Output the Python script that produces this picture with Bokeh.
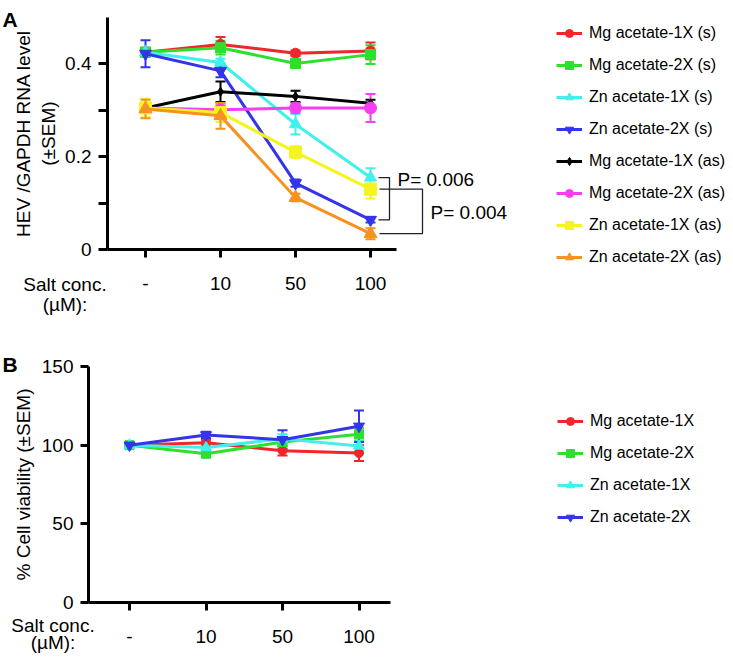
import numpy as np
from bokeh.plotting import figure
from bokeh.models import (FixedTicker, Label, Legend, LegendItem, ColumnDataSource,
                          Whisker, TeeHead, Range1d)
from bokeh.layouts import column
from bokeh.embed import file_html
from bokeh.resources import INLINE

FONT = "Liberation Sans"

# ---------------- data ----------------
x_pos = [0, 1, 2, 3]
conc_labels = ["-", "10", "50", "100"]

# Panel A: HEV/GAPDH RNA level
mg1_s = [0.425, 0.442, 0.423, 0.428]
mg1_s_err = [0.010, 0.016, 0.006, 0.018]
mg2_s = [0.425, 0.435, 0.401, 0.420]
mg2_s_err = [0.010, 0.015, 0.010, 0.020]
zn1_s = [0.425, 0.403, 0.270, 0.155]
zn1_s_err = [0.010, 0.008, 0.022, 0.020]
zn2_s = [0.422, 0.385, 0.143, 0.064]
zn2_s_err = [0.029, 0.014, 0.008, 0.006]
mg1_as = [0.305, 0.340, 0.330, 0.315]
mg1_as_err = [0.010, 0.022, 0.012, 0.008]
mg2_as = [0.305, 0.301, 0.305, 0.305]
mg2_as_err = [0.010, 0.010, 0.010, 0.030]
zn1_as = [0.305, 0.295, 0.210, 0.130]
zn1_as_err = [0.020, 0.020, 0.012, 0.020]
zn2_as = [0.303, 0.288, 0.112, 0.034]
zn2_as_err = [0.020, 0.028, 0.008, 0.012]

names_A = ["Mg acetate-1X (s)", "Mg acetate-2X (s)", "Zn acetate-1X (s)", "Zn acetate-2X (s)",
           "Mg acetate-1X (as)", "Mg acetate-2X (as)", "Zn acetate-1X (as)", "Zn acetate-2X (as)"]
p_values = ["P= 0.006", "P= 0.004"]

# Panel B: % cell viability
mg1_v = [100, 101.5, 96.5, 95]
mg1_v_err = [1, 2, 3, 5]
mg2_v = [100, 94.5, 102, 107]
mg2_v_err = [1, 2, 3, 4]
zn1_v = [100, 98.5, 104, 99.5]
zn1_v_err = [1, 2, 3, 3]
zn2_v = [100, 106.5, 103.5, 112]
zn2_v_err = [1.5, 2, 6, 10]
names_B = ["Mg acetate-1X", "Mg acetate-2X", "Zn acetate-1X", "Zn acetate-2X"]

# ---------------- styles ----------------
RED = "#F0262B"
GREEN = "#2EE02E"
CYAN = "#3FF0EC"
BLUE = "#3434EA"
BLACK = "#000000"
MAGENTA = "#F53FF2"
YELLOW = "#F4F41E"
ORANGE = "#F7921E"

series_A = [
    (mg1_s, mg1_s_err, RED, "circle", 10),
    (mg2_s, mg2_s_err, GREEN, "square", 10),
    (zn1_s, zn1_s_err, CYAN, "triangle", 12),
    (zn2_s, zn2_s_err, BLUE, "inverted_triangle", 12),
    (mg1_as, mg1_as_err, BLACK, "diamond", 9),
    (mg2_as, mg2_as_err, MAGENTA, "circle", 12),
    (zn1_as, zn1_as_err, YELLOW, "square", 12),
    (zn2_as, zn2_as_err, ORANGE, "triangle", 13),
]
series_B = [
    (mg1_v, mg1_v_err, RED, "circle", 9),
    (mg2_v, mg2_v_err, GREEN, "square", 9),
    (zn1_v, zn1_v_err, CYAN, "triangle", 11),
    (zn2_v, zn2_v_err, BLUE, "inverted_triangle", 11),
]

FIG_W = 730
LEFT_PAGE = 0   # screen x of the canvas' left edge (observed)
TOTAL_H = 656


def style_axes(p, xbounds, ybounds, yloc):
    for ax in (p.xaxis[0], p.yaxis[0]):
        ax.axis_line_width = 3
        ax.axis_line_color = "black"
        ax.major_tick_line_width = 3
        ax.minor_tick_line_width = 3
        ax.major_tick_in = 0
        ax.minor_tick_in = 0
        ax.major_label_text_font = FONT
        ax.major_label_text_font_size = "19px"
        ax.major_label_text_color = "black"
        ax.axis_label_text_font = FONT
        ax.axis_label_text_font_size = "19px"
        ax.axis_label_text_font_style = "normal"
        ax.axis_label_text_color = "black"
    xa = p.xaxis[0]
    xa.ticker = FixedTicker(ticks=x_pos)
    xa.major_label_overrides = {i: lab for i, lab in zip(x_pos, conc_labels)}
    xa.major_tick_out = 8
    xa.minor_tick_line_color = None
    xa.major_label_standoff = 19
    xa.bounds = xbounds
    xa.fixed_location = 0
    ya = p.yaxis[0]
    ya.bounds = ybounds
    ya.fixed_location = yloc
    p.xgrid.grid_line_color = None
    p.ygrid.grid_line_color = None
    p.outline_line_color = None


def draw_series(p, series, names, lw, cap):
    items = []
    for (vals, err, col, mk, sz), nm in zip(series, names):
        v = np.array(vals, dtype=float)
        e = np.array(err, dtype=float)
        src = ColumnDataSource(dict(base=x_pos, upper=v + e, lower=v - e))
        w = Whisker(source=src, base="base", upper="upper", lower="lower",
                    line_color=col, line_width=2,
                    upper_head=TeeHead(size=cap, line_color=col, line_width=2),
                    lower_head=TeeHead(size=cap, line_color=col, line_width=2))
        p.add_layout(w)
        lr = p.line(x_pos, vals, line_color=col, line_width=lw)
        sr = p.scatter(x_pos, vals, marker=mk, size=sz, fill_color=col, line_color=col)
        items.append(LegendItem(label=nm, renderers=[lr, sr]))
    return items


def make_legend(items, x, y):
    return Legend(items=items, location=(x, y), orientation="vertical",
                  label_text_font=FONT, label_text_font_size="16px",
                  label_text_color="black",
                  glyph_width=26, glyph_height=20, label_height=20, spacing=12,
                  label_standoff=7, padding=0, margin=0,
                  border_line_color=None, background_fill_alpha=0)


def text_label(p, x, y, txt, size="19px", align="left", bold=False, baseline="middle"):
    p.add_layout(Label(x=x, y=y, text=txt, text_font=FONT, text_font_size=size,
                       text_align=align, text_baseline=baseline, text_color="black",
                       text_font_style="bold" if bold else "normal"))


# ---------------- Panel A ----------------
# geometry (screen px): y-axis at x=107, top 17, x-axis at y=249; x=0 at 145, 75 px/category
A_top_px, A_height = 0, 330
A_axis_x, A_axis_top, A_axis_y, A_x0, A_dx = 107, 17, 249, 145, 75
A_ymax = 0.5
A_ppu = (A_axis_y - A_axis_top) / A_ymax


def ax_A(px):
    return (px - A_x0) / A_dx


def ay_A(py):
    return (A_axis_y - py) / A_ppu


pA = figure(width=FIG_W, height=A_height, output_backend="svg", toolbar_location=None,
            title=None,
            x_range=Range1d(ax_A(LEFT_PAGE), ax_A(LEFT_PAGE + FIG_W)),
            y_range=Range1d(ay_A(A_top_px + A_height), ay_A(A_top_px)),
            min_border=0, min_border_left=0, min_border_right=0,
            min_border_top=0, min_border_bottom=0)
style_axes(pA, (ax_A(A_axis_x), ax_A(396)), (0, A_ymax), ax_A(A_axis_x))
ya = pA.yaxis[0]
ya.ticker = FixedTicker(ticks=[0, 0.2, 0.4], minor_ticks=[0.1, 0.3])
ya.major_label_overrides = {0: "0", 0.2: "0.2", 0.4: "0.4"}
ya.major_tick_out = 9
ya.minor_tick_out = 9
ya.major_label_standoff = 7
ya.axis_label = "HEV /GAPDH RNA level\n(±SEM)"
ya.axis_label_standoff = 3

items_A = draw_series(pA, series_A, names_A, 3, 10)

# significance brackets (from the last-point values)
b1_top, b1_bot = zn1_s[3], zn2_s[3]
b2_top, b2_bot = zn1_as[3], zn2_as[3]
xb1a, xb1b = ax_A(378), ax_A(389)
xb2a, xb2b = ax_A(379), ax_A(422)
pA.line([xb1a, xb1b, xb1b, xb1a], [b1_top, b1_top, b1_bot, b1_bot], line_color="#222222", line_width=1.3)
pA.line([xb2a, xb2b, xb2b, xb2a], [b2_top, b2_top, b2_bot, b2_bot], line_color="#222222", line_width=1.3)
text_label(pA, ax_A(397), ay_A(179), p_values[0])
text_label(pA, ax_A(430), ay_A(212), p_values[1])

# panel letter and x-axis caption
text_label(pA, ax_A(2), ay_A(19), "A", size="21px", bold=True, baseline="alphabetic")
text_label(pA, ax_A(64.5), ay_A(284), "Salt conc.", align="center")
text_label(pA, ax_A(64.5), ay_A(304), "(µM):", align="center")

legA = make_legend(items_A, 556 - LEFT_PAGE, (A_top_px + A_height) - (23 + 8 * 20 + 7 * 12))
pA.add_layout(legA)

# ---------------- Panel B ----------------
B_top_px, B_height = A_top_px + A_height, TOTAL_H - A_height
B_axis_x, B_axis_top, B_axis_y, B_x0, B_dx = 88, 366, 602, 129, 76.5
B_ymax = 150
B_ppu = (B_axis_y - B_axis_top) / B_ymax


def ax_B(px):
    return (px - B_x0) / B_dx


def ay_B(py):
    return (B_axis_y - py) / B_ppu


pB = figure(width=FIG_W, height=B_height, output_backend="svg", toolbar_location=None,
            title=None,
            x_range=Range1d(ax_B(LEFT_PAGE), ax_B(LEFT_PAGE + FIG_W)),
            y_range=Range1d(ay_B(B_top_px + B_height), ay_B(B_top_px)),
            min_border=0, min_border_left=0, min_border_right=0,
            min_border_top=0, min_border_bottom=0)
style_axes(pB, (ax_B(B_axis_x), ax_B(390)), (0, B_ymax), ax_B(B_axis_x))
yb = pB.yaxis[0]
yb.ticker = FixedTicker(ticks=[0, 50, 100, 150])
yb.minor_tick_line_color = None
yb.major_tick_out = 8
yb.major_label_standoff = 7
yb.axis_label = "% Cell viability (±SEM)"
yb.axis_label_standoff = 5

items_B = draw_series(pB, series_B, names_B, 3, 10)

text_label(pB, ax_B(2), ay_B(364), "B", size="21px", bold=True, baseline="alphabetic")
text_label(pB, ax_B(52.5), ay_B(625), "Salt conc.", align="center")
text_label(pB, ax_B(52.5), ay_B(642), "(µM):", align="center")

legB = make_legend(items_B, 557 - LEFT_PAGE, (B_top_px + B_height) - (411 + 4 * 20 + 3 * 12))
pB.add_layout(legB)

layout = column(pA, pB)
open("out.html", "w").write(file_html(layout, INLINE))
